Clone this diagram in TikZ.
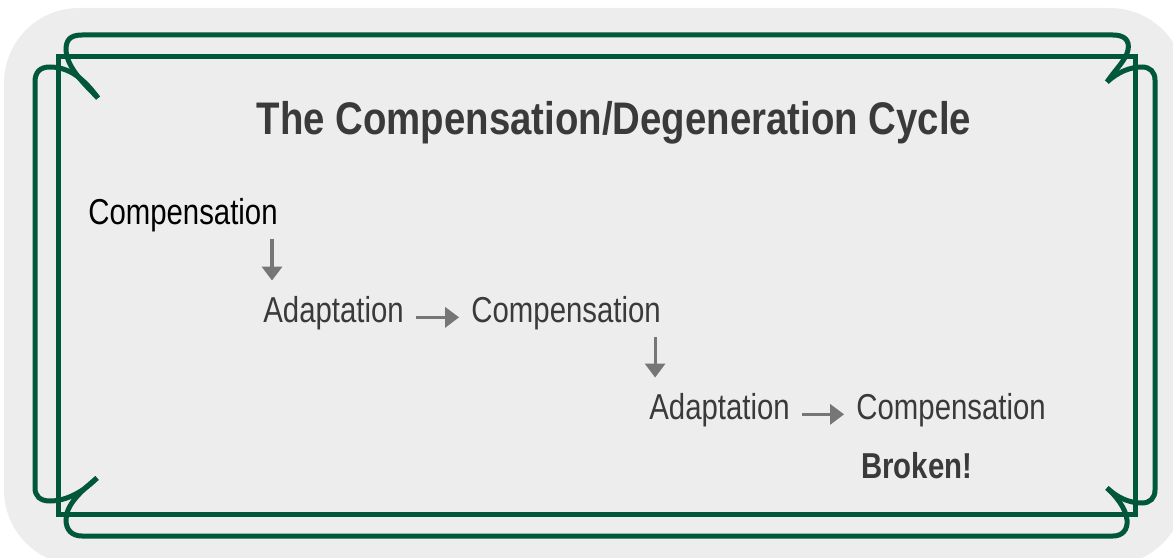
\documentclass[tikz,border=0pt]{standalone}
\usepackage{fontspec}
\setmainfont{Liberation Sans}[FakeStretch=0.84]
\newfontfamily\stepfont{Liberation Sans}[FakeStretch=0.815]
\usetikzlibrary{arrows.meta, positioning}
\definecolor{framegreen}{HTML}{00573A}
\definecolor{panelgray}{HTML}{EDEDED}
\definecolor{textgray}{HTML}{3A3A3A}
\definecolor{arrowgray}{HTML}{767676}
\tikzset{
  Arrow1/.style = {
    draw = arrowgray,
    line width = 0.65mm,
    -{Triangle[length = 2.8mm, width = 4mm]},
  },
  Frame1/.style = {
    draw = framegreen,
    line width = 1mm,
  },
  Step1/.style = {
    inner sep = 0pt,
    font = \stepfont\fontsize{20.5}{24}\selectfont,
    text = textgray,
  }
}

\begin{document}
\begin{tikzpicture}[x=0.2mm, y=-0.2mm]
      \useasboundingbox (0,0) rectangle (1173,558);
      \fill[panelgray, rounded corners=15mm] (4,8) rectangle (1185,565);
      % frame
      \draw[Frame1] (58,57) rectangle (1135,514);
      \draw[Frame1] (98,98) .. controls (80,80) and (67,66) .. (66,50)
        .. controls (66,40) and (70,35) .. (82,35) -- (1113,35)
        .. controls (1124,35) and (1130,40) .. (1128,50)
        .. controls (1126,60) and (1115,70) .. (1107,82);
      \draw[Frame1] (98,98) .. controls (85,80) and (70,67) .. (50,67)
        .. controls (40,67) and (35,72) .. (35,82) -- (35,488)
        .. controls (35,496) and (40,501) .. (50,501)
        .. controls (68,501) and (85,490) .. (97,478);
      \draw[Frame1] (97,478) .. controls (80,492) and (66,505) .. (66,520)
        .. controls (66,530) and (72,536) .. (82,536) -- (1113,536)
        .. controls (1122,536) and (1128,530) .. (1127,520)
        .. controls (1126,508) and (1115,495) .. (1107,488);
      \draw[Frame1] (1107,82) .. controls (1118,72) and (1130,67) .. (1142,67)
        .. controls (1150,67) and (1155,72) .. (1155,80) -- (1155,490)
        .. controls (1155,498) and (1150,503) .. (1142,503)
        .. controls (1128,503) and (1117,497) .. (1107,488);
      % cycle
      \node[text=textgray, font=\fontsize{26}{30}\selectfont\bfseries] (title) at (614,123) {The Compensation/Degeneration Cycle};
      \node[Step1, text=black, anchor=base west] (comp1) at (88,224) {Compensation};
      \node[Step1, anchor=base west] (adapt1) at (263,322) {Adaptation};
      \node[Step1, base right=13.4mm of adapt1] (comp2) {Compensation};
      \node[Step1, anchor=base west] (adapt2) at (649,419) {Adaptation};
      \node[Step1, base right=13.2mm of adapt2] (comp3) {Compensation};
      \node[Step1, font=\stepfont\fontsize{20.5}{24}\selectfont\bfseries, anchor=base west] (broken) at (861,478) {Broken!};
      \draw[Arrow1, shorten <=1.4mm, shorten >=3mm]
        ([xshift=-1.2mm]comp1.south east) -- ([xshift=-1.2mm]comp1.south east |- adapt1.north);
      \draw[Arrow1, shorten <=2.4mm, shorten >=2.4mm] (adapt1.mid east) -- (comp2.mid west);
      \draw[Arrow1, shorten <=1.4mm, shorten >=3mm]
        ([xshift=-1.2mm]comp2.south east) -- ([xshift=-1.2mm]comp2.south east |- adapt2.north);
      \draw[Arrow1, shorten <=2.4mm, shorten >=2.4mm] (adapt2.mid east) -- (comp3.mid west);
    \end{tikzpicture}
\end{document}
